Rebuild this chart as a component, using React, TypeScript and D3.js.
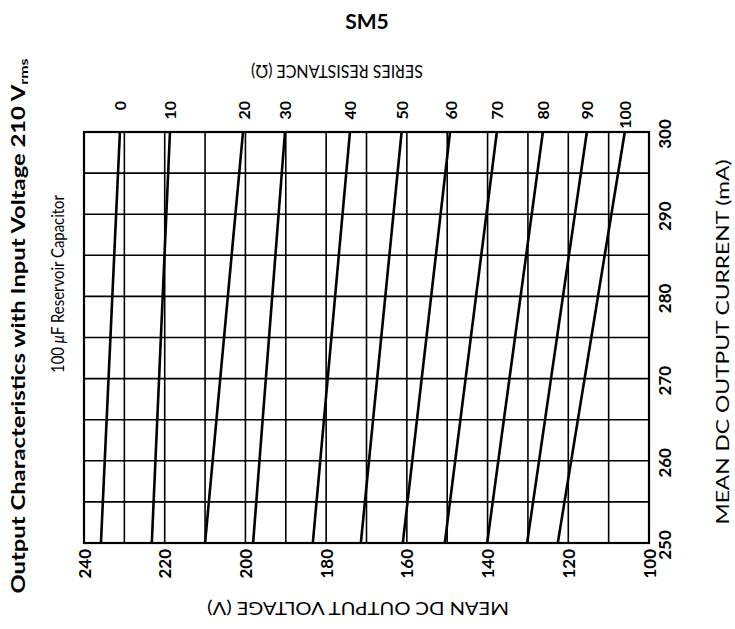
import React from "react";
import * as d3 from "d3";

const resistances = [0, 10, 20, 30, 40, 50, 60, 70, 80, 90, 100];
const voltsAt250 = [235.8, 223.2, 210.0, 198.1, 183.3, 171.4, 161.0, 150.6, 140.1, 130.2, 122.6];
const voltsAt300 = [231.1, 218.7, 200.6, 190.2, 174.1, 161.3, 149.3, 137.7, 126.3, 115.4, 106.0];
const currentEnds = [250, 300];
const voltTicks = [240, 220, 200, 180, 160, 140, 120, 100];
const currentTicks = [250, 260, 270, 280, 290, 300];
const voltGrid = d3.range(240, 99, -10);
const currentGrid = d3.range(250, 301, 5);

const W = 735;
const H = 629;
const L = 84, R = 649, T = 132, B = 543;
const FONT = "Lato, 'Open Sans', sans-serif";

export default function App() {
  const x = d3.scaleLinear().domain([240, 100]).range([L, R]);
  const y = d3.scaleLinear().domain([250, 300]).range([B, T]);
  const line = d3.line<[number, number]>().x((d) => x(d[0])).y((d) => y(d[1]));

  return (
    <svg width={W} height={H} style={{ position: "absolute", left: 0, top: 0, background: "#fff" }}>
      <rect x={0} y={0} width={W} height={H} fill="#fff" />
      <text x={367} y={29} textAnchor="middle" fontFamily={FONT} fontWeight="bold" fontSize={21}>SM5</text>
      <text transform={`translate(337,72) rotate(180)`} textAnchor="middle" dominantBaseline="central"
        fontFamily={FONT} fontSize={18} textLength={172} lengthAdjust="spacingAndGlyphs">SERIES RESISTANCE (Ω)</text>
      <text transform={`translate(358,609) rotate(180)`} textAnchor="middle" dominantBaseline="central"
        fontFamily={FONT} fontSize={18} textLength={302} lengthAdjust="spacingAndGlyphs">MEAN DC OUTPUT VOLTAGE (V)</text>
      <text transform={`translate(722,342) rotate(-90)`} textAnchor="middle" dominantBaseline="central"
        fontFamily={FONT} fontSize={18} textLength={365} lengthAdjust="spacingAndGlyphs">MEAN DC OUTPUT CURRENT (mA)</text>
      <text transform={`translate(18,326) rotate(-90)`} textAnchor="middle" dominantBaseline="central"
        fontFamily={FONT} fontSize={18} fontWeight="bold" textLength={535} lengthAdjust="spacingAndGlyphs">
        Output Characteristics with Input Voltage 210 V<tspan fontSize={12} dy={5}>rms</tspan>
      </text>
      <text transform={`translate(57,284) rotate(-90)`} textAnchor="middle" dominantBaseline="central"
        fontFamily={FONT} fontSize={18} textLength={178} lengthAdjust="spacingAndGlyphs">
        100 <tspan fontStyle="italic">μ</tspan>F Reservoir Capacitor
      </text>

      {voltGrid.map((v) => (
        <line key={"vg" + v} x1={x(v)} x2={x(v)} y1={T} y2={B} stroke="#000" strokeWidth={1.6} />
      ))}
      {currentGrid.map((c) => (
        <line key={"cg" + c} x1={L} x2={R} y1={y(c)} y2={y(c)} stroke="#000" strokeWidth={1.6} />
      ))}
      <rect x={L} y={T} width={R - L} height={B - T} fill="none" stroke="#000" strokeWidth={2.2} />

      {resistances.map((r, i) => (
        <path key={"r" + r}
          d={line([[voltsAt250[i], currentEnds[0]], [voltsAt300[i], currentEnds[1]]]) || ""}
          fill="none" stroke="#000" strokeWidth={2.6} />
      ))}

      {resistances.map((r, i) => (
        <text key={"rl" + r} transform={`translate(${x(voltsAt300[i])},101) rotate(-90)`} textAnchor="end"
          dominantBaseline="central" fontFamily={FONT} fontWeight="bold" fontSize={16}>{r}</text>
      ))}
      {voltTicks.map((v) => (
        <text key={"vt" + v} transform={`translate(${x(v)},549) rotate(-90)`} textAnchor="end"
          dominantBaseline="central" fontFamily={FONT} fontWeight="bold" fontSize={17}>{v}</text>
      ))}
      {currentTicks.map((c) => (
        <text key={"ct" + c} transform={`translate(664,${y(c) + 2}) rotate(-90)`} textAnchor="middle"
          dominantBaseline="central" fontFamily={FONT} fontWeight="bold" fontSize={17}>{c}</text>
      ))}
    </svg>
  );
}
